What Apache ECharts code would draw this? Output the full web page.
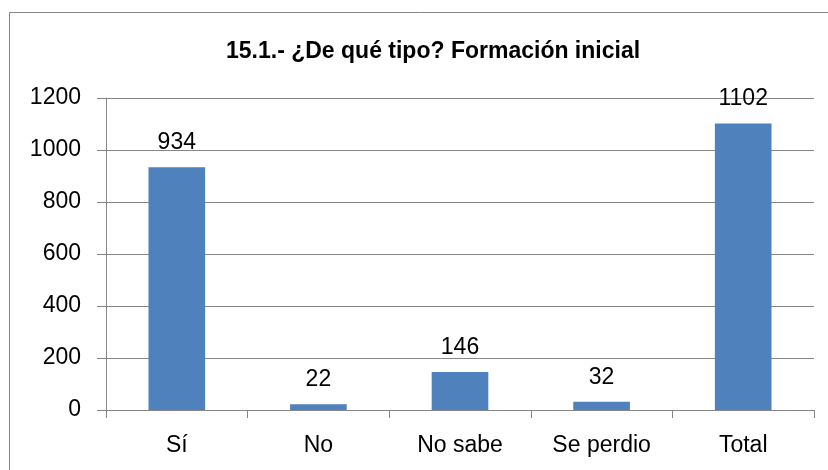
<!DOCTYPE html>
<html>
<head>
<meta charset="utf-8">
<script src="https://cdn.jsdelivr.net/npm/echarts@6/dist/echarts.min.js"></script>
<style>
  html, body { margin: 0; padding: 0; background: #fff; }
  #main { width: 828px; height: 470px; }
</style>
</head>
<body>
<div id="main"></div>
<script>
// datos del grafico
var categorias = ['Sí', 'No', 'No sabe', 'Se perdio', 'Total'];
var valores = [934, 22, 146, 32, 1102];
var titulo = '15.1.- ¿De qué tipo? Formación inicial';

var chart = echarts.init(document.getElementById('main'), null, { renderer: 'canvas' });
var fuente = '"Liberation Sans", Arial, sans-serif';

var option = {
  animation: false,
  backgroundColor: '#fff',
  title: {
    text: titulo,
    left: 221,
    top: 35,
    textStyle: {
      fontFamily: fuente,
      fontWeight: 'bold',
      fontSize: 23,
      color: '#000'
    }
  },
  // marco exterior
  graphic: [{
    type: 'rect',
    shape: { x: 9.5, y: 12.5, width: 840, height: 480 },
    style: { fill: 'none', stroke: '#868686', lineWidth: 1 },
    silent: true
  }],
  grid: {
    left: 106,
    right: 14,
    top: 98,
    bottom: 60
  },
  xAxis: {
    type: 'category',
    data: categorias,
    axisLine: { lineStyle: { color: '#868686', width: 1 } },
    axisTick: { show: true, length: 8, lineStyle: { color: '#868686' } },
    axisLabel: {
      fontFamily: fuente,
      fontSize: 23,
      color: '#000',
      margin: 24
    }
  },
  yAxis: {
    type: 'value',
    min: 0,
    max: 1200,
    interval: 200,
    axisLine: { show: true, lineStyle: { color: '#868686', width: 1 } },
    axisTick: { show: true, length: 9, lineStyle: { color: '#868686' } },
    splitLine: { show: true, lineStyle: { color: '#868686', width: 1 } },
    axisLabel: {
      fontFamily: fuente,
      fontSize: 23,
      color: '#000',
      margin: 25,
      formatter: function (v) { return String(v); }
    }
  },
  series: [{
    type: 'bar',
    data: valores,
    barWidth: '40%',
    itemStyle: { color: '#4F81BD' },
    label: {
      show: true,
      position: 'top',
      distance: 13,
      fontFamily: fuente,
      fontSize: 23,
      color: '#000'
    }
  }]
};

chart.setOption(option);
</script>
</body>
</html>
